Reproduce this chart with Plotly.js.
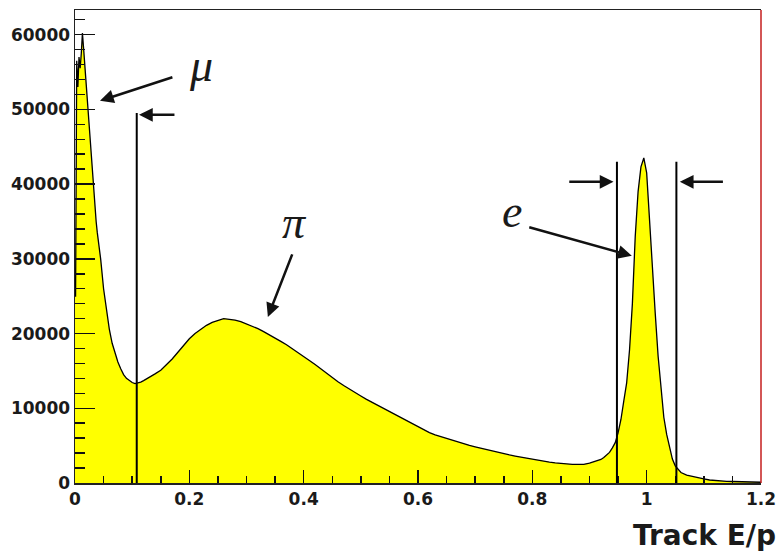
<!DOCTYPE html>
<html>
<head>
<meta charset="utf-8">
<script src="https://cdn.plot.ly/plotly-3.0.1.min.js"></script>
<style>html,body{margin:0;padding:0;background:#fff;}#chart{width:783px;height:554px;}</style>
</head>
<body>
<div id="chart"></div>
<script>
// Segment A: 0.000-0.040, bin centers every 0.002
const segAStart = 0.001, segAStep = 0.002;
const segAValues = [25000, 56500, 53000, 57000, 55500, 57500, 60200, 58200, 56000, 54000,
                    52000, 50000, 47800, 45800, 44000, 41800, 39700, 37000, 35000, 33500];
// Segment B: 0.045-0.125, every 0.005
const segBStart = 0.045, segBStep = 0.005;
const segBValues = [29900, 26000, 23200, 20600, 18700, 17300, 16200, 15300, 14500, 14000,
                    13700, 13450, 13300, 13350, 13500, 13700, 13900];
// Segment C: 0.13-0.92, every 0.01
const segCStart = 0.13, segCStep = 0.01;
const segCValues = [14100, 14600, 15100, 15800, 16600, 17500, 18400, 19300, 20000, 20600,
                    21100, 21500, 21800, 22000, 21900, 21800, 21600, 21300, 21000, 20650,
                    20250, 19850, 19400, 18950, 18500, 18000, 17500, 16950, 16400, 15850,
                    15250, 14650, 14100, 13550, 13050, 12550, 12100, 11650, 11200, 10800,
                    10400, 10000, 9600, 9200, 8750, 8300, 7900, 7500, 7100, 6750,
                    6450, 6200, 6000, 5800, 5550, 5300, 5050, 4850, 4650, 4450,
                    4250, 4050, 3900, 3750, 3600, 3450, 3300, 3200, 3050, 2950,
                    2800, 2700, 2600, 2550, 2500, 2500, 2500, 2650, 2850, 3150];
// Segment D: 0.925-1.060, every 0.005 (electron peak)
const segDStart = 0.925, segDStep = 0.005;
const segDValues = [3400, 3700, 4100, 4700, 5400, 6700, 8500, 11000, 13400, 17800,
                    24000, 33000, 39000, 42300, 43500, 41500, 34800, 28900, 22700, 17000,
                    12500, 8800, 6500, 4800, 3200, 2300, 1800, 1400];
// Segment E: 1.07-1.20, every 0.01 (tail)
const segEStart = 1.07, segEStep = 0.01;
const segEValues = [1050, 850, 700, 550, 400, 320, 270, 230, 200, 180, 160, 140, 120, 100];

// Selection cut positions and heights
const cutX = [0.108, 0.948, 1.052];
const cutTop = [49500, 43000, 43000];

// Tick labels
const xTickVals = [0, 0.2, 0.4, 0.6, 0.8, 1.0, 1.2];
const xTickText = ['0', '0.2', '0.4', '0.6', '0.8', '1', '1.2'];
const yTickVals = [0, 10000, 20000, 30000, 40000, 50000, 60000];
const yTickText = ['0', '10000', '20000', '30000', '40000', '50000', '60000'];

// ---- Build series ----
const segments = [
  [segAStart, segAStep, segAValues],
  [segBStart, segBStep, segBValues],
  [segCStart, segCStep, segCValues],
  [segDStart, segDStep, segDValues],
  [segEStart, segEStep, segEValues]
];
const xs = [0], ys = [segAValues[0]];
segments.forEach(([s, st, vals]) => {
  vals.forEach((v, i) => { xs.push(+(s + i * st).toFixed(4)); ys.push(v); });
});

const trace = {
  type: 'scatter', mode: 'lines', x: xs, y: ys,
  line: {color: '#000', width: 1.3, shape: 'linear'},
  fill: 'tozeroy', fillcolor: '#ffff00',
  hoverinfo: 'skip', showlegend: false
};

const shapes = cutX.map((cx, i) => ({
  type: 'line', xref: 'x', yref: 'y', x0: cx, x1: cx, y0: 0, y1: cutTop[i],
  line: {color: '#000', width: 2}
}));
shapes.push({type: 'line', xref: 'paper', yref: 'paper', x0: 1, x1: 1, y0: 0, y1: 1,
  line: {color: '#c41e1e', width: 1.5}});

const greek = {family: 'Liberation Serif', size: 46, color: '#1a1a1a', style: 'italic'};
function arrow(x, y, ax, ay) {
  return {xref: 'x', yref: 'y', axref: 'x', ayref: 'y', x: x, y: y, ax: ax, ay: ay,
    text: '', showarrow: true, arrowhead: 2, arrowsize: 1.1, arrowwidth: 2.5, arrowcolor: '#111'};
}
const annotations = [
  {xref: 'x', yref: 'y', x: 0.22, y: 55840, text: 'μ', showarrow: false, font: greek},
  {xref: 'x', yref: 'y', x: 0.3846, y: 34800, text: 'π', showarrow: false, font: greek},
  {xref: 'x', yref: 'y', x: 0.764, y: 36350, text: 'e', showarrow: false, font: greek},
  arrow(0.0437, 51150, 0.173, 54360),
  arrow(0.112, 49280, 0.1766, 49280),
  arrow(0.3374, 22230, 0.381, 30800),
  arrow(0.974, 30400, 0.792, 34280),
  arrow(0.942, 40300, 0.862, 40300),
  arrow(1.058, 40300, 1.136, 40300),
  {xref: 'paper', yref: 'paper', x: 1.0248, y: -0.111, xanchor: 'right', yanchor: 'middle',
   text: 'Track E/p', showarrow: false,
   font: {family: 'DejaVu Sans', size: 28, weight: 'bold', color: '#1a1a1a'}}
];

const tickFont = {family: 'DejaVu Sans', size: 17, weight: 'bold', color: '#1a1a1a'};
const layout = {
  width: 783, height: 554,
  margin: {l: 75, r: 22, t: 10, b: 71},
  paper_bgcolor: '#fff', plot_bgcolor: '#fff',
  showlegend: false,
  xaxis: {
    range: [0, 1.2], tickvals: xTickVals, ticktext: xTickText,
    ticks: 'inside', ticklen: 13, tickwidth: 1.5, tickcolor: '#111',
    minor: {dtick: 0.05, tick0: 0, ticks: 'inside', ticklen: 7, tickwidth: 1.5, tickcolor: '#111', showgrid: false},
    showline: true, linecolor: '#222', linewidth: 1.5, mirror: true,
    showgrid: false, zeroline: false, tickfont: tickFont
  },
  yaxis: {
    range: [0, 63300], tickvals: yTickVals, ticktext: yTickText,
    ticks: 'inside', ticklen: 20, tickwidth: 1.5, tickcolor: '#111',
    minor: {dtick: 2000, tick0: 0, ticks: 'inside', ticklen: 10, tickwidth: 1.5, tickcolor: '#111', showgrid: false},
    showline: true, linecolor: '#222', linewidth: 1.5, mirror: false,
    showgrid: false, zeroline: false, tickfont: tickFont
  },
  shapes: shapes,
  annotations: annotations
};

Plotly.newPlot('chart', [trace], layout, {staticPlot: true, displayModeBar: false});
</script>
</body>
</html>
